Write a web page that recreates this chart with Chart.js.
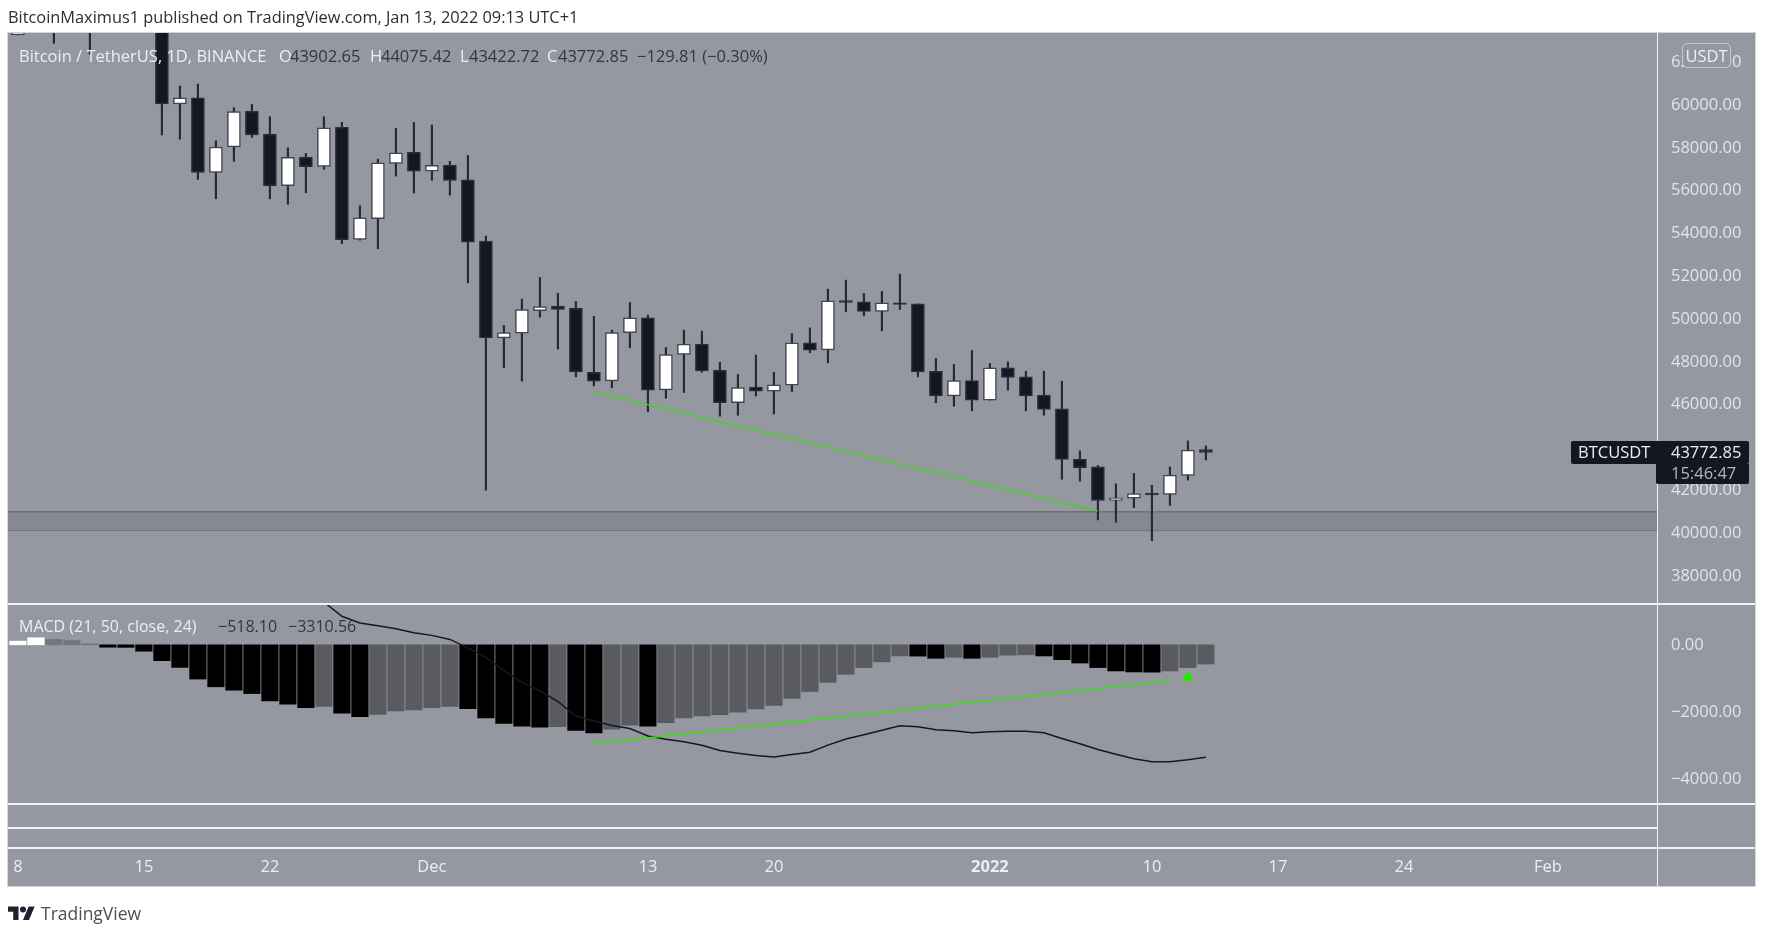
<!DOCTYPE html>
<html>
<head>
<meta charset="utf-8">
<title>BTCUSDT</title>
<script src="https://cdn.jsdelivr.net/npm/chart.js@4/dist/chart.umd.min.js"></script>
<style>
  html, body { margin: 0; padding: 0; background: #fff; width: 1765px; height: 928px; overflow: hidden; }
  body { font-family: "Open Sans", sans-serif; position: relative; }
  #panel { position: absolute; left: 8px; top: 33px; width: 1747px; height: 853px; background: #9598a1; }
  canvas { position: absolute; left: 0; }
  .t { position: absolute; white-space: nowrap; line-height: 20px; font-size: 16.5px; }
  .hl { color: #eceef2; }
  .dk { color: #33363f; }
  .rule { position: absolute; background: #f1f2f4; }
</style>
</head>
<body>
<div id="panel"></div>
<canvas id="mainChart" width="1765" height="603" style="top:0"></canvas>
<canvas id="macdChart" width="1765" height="325" style="top:603px"></canvas>

<div class="rule" style="left:8px;top:603px;width:1747px;height:1.5px"></div>
<div class="rule" style="left:8px;top:803px;width:1747px;height:1.5px"></div>
<div class="rule" style="left:8px;top:826.5px;width:1649px;height:2px"></div>
<div class="rule" style="left:8px;top:847px;width:1747px;height:1.5px"></div>
<div class="rule" style="left:1656.5px;top:33px;width:1.5px;height:853px"></div>
<div class="rule" style="left:8px;top:32px;width:1747px;height:1px;background:#d3d5da"></div>
<div class="rule" style="left:7px;top:32px;width:1px;height:855px;background:#d3d5da"></div>
<div class="rule" style="left:1755px;top:32px;width:1px;height:855px;background:#d3d5da"></div>
<div class="rule" style="left:7px;top:886px;width:1749px;height:1px;background:#d3d5da"></div>

<div class="t" style="left:8px;top:7px;font-size:16.35px;color:#2a2e39">BitcoinMaximus1 published on TradingView.com, Jan 13, 2022 09:13 UTC+1</div>

<div class="t hl" style="left:19px;top:46px">Bitcoin / TetherUS, 1D, BINANCE</div>
<div class="t hl" style="left:279px;top:46px">O</div><div class="t dk" style="left:290px;top:46px">43902.65</div>
<div class="t hl" style="left:370px;top:46px">H</div><div class="t dk" style="left:381px;top:46px">44075.42</div>
<div class="t hl" style="left:460px;top:46px">L</div><div class="t dk" style="left:469px;top:46px">43422.72</div>
<div class="t hl" style="left:547px;top:46px">C</div><div class="t dk" style="left:558px;top:46px">43772.85</div>
<div class="t dk" style="left:637px;top:46px">−129.81 (−0.30%)</div>

<div class="t hl" style="left:19px;top:616px;font-size:16px">MACD (21, 50, close, 24)</div>
<div class="t dk" style="left:218px;top:616px;font-size:16px">−518.10</div>
<div class="t dk" style="left:288px;top:616px;font-size:16px">−3310.56</div>

<div class="t" style="left:1682px;top:43px;width:47px;height:23px;line-height:23px;text-align:center;color:#eef0f3;background:#9598a1;border:1px solid #c5c7ce;border-radius:5px">USDT</div>

<div style="position:absolute;left:1571px;top:441px;width:178px;height:23px;background:#131722;border-radius:2px"></div>
<div style="position:absolute;left:1656px;top:464px;width:93px;height:20px;background:#131722;border-radius:0 0 2px 2px"></div>
<div class="t" style="left:1578px;top:442px;color:#eceef2">BTCUSDT</div>
<div class="t" style="left:1671px;top:442px;color:#eceef2">43772.85</div>
<div class="t" style="left:1671px;top:463px;color:#b4b6bd">15:46:47</div>

<svg style="position:absolute;left:8px;top:905px" width="27" height="15" viewBox="0 0 36 20">
  <path fill="#1e222d" d="M14 20H7V9H0V2h14v18zM28 20h-8l7.5-18h8L28 20z"/>
  <circle fill="#1e222d" cx="20" cy="6" r="4"/>
</svg>
<div class="t" style="left:41px;top:903px;font-size:17.5px;color:#4a4e59">TradingView</div>

<script>
// day 0 is Nov 8 2021, one unit per day
const tickDays = [0, 7, 14, 23, 35, 42, 54, 63, 70, 77, 85];
const tickLabels = ['8', '15', '22', 'Dec', '13', '20', '2022', '10', '17', '24', 'Feb'];
// 44000 sits behind the price label
const priceTicks = [62000, 60000, 58000, 56000, 54000, 52000, 50000, 48000, 46000, 42000, 40000, 38000];
const macdTicks = [0, -2000, -4000];

const opens = [63273, 67525, 66950, 64880, 64800, 64400, 64440, 65500, 63600, 60050, 60340, 56850, 58040, 59700, 58645, 56230, 57570, 57130, 58955, 53720, 54690, 57275, 57790, 56915, 57195, 56510, 53645, 49125, 49345, 50390, 50607, 50500, 47510, 47115, 49360, 50060, 46695, 48345, 48830, 47610, 46100, 46820, 46630, 46910, 48890, 48560, 50870, 50810, 50355, 50760, 50710, 47565, 46410, 47130, 46210, 47720, 47300, 46445, 45805, 43455, 43095, 41525, 41635, 41870, 41805, 42695, 43902.65];
const highs = [67790, 68500, 69000, 65600, 65450, 65000, 65550, 66300, 63620, 60890, 60980, 58330, 59875, 60030, 59455, 58000, 57740, 59455, 59190, 55295, 57475, 58910, 59190, 59065, 57370, 57650, 53878, 49705, 50935, 51945, 51200, 50825, 50125, 49485, 50775, 50185, 48670, 49485, 49440, 47985, 47410, 48320, 47520, 49325, 49590, 51400, 51820, 51200, 51290, 52100, 50710, 48160, 47880, 48535, 47925, 48000, 47565, 47565, 47100, 43845, 43160, 42300, 42790, 42240, 43095, 44310, 44075.42];
const lows = [63273, 66250, 62880, 64100, 62370, 63400, 63550, 63400, 58600, 58400, 56525, 55620, 57370, 58490, 55620, 55360, 55900, 57000, 53530, 53690, 53285, 56680, 55890, 56480, 55790, 51700, 42010, 47725, 47100, 50090, 48600, 47305, 46880, 46790, 48655, 45670, 46300, 46570, 47520, 45465, 45510, 46410, 45570, 46615, 48425, 47955, 50340, 50150, 49450, 50450, 47300, 46090, 45930, 45715, 46210, 46680, 45715, 45510, 42520, 42425, 40620, 40510, 41195, 39650, 41300, 42475, 43422.72];
const closes = [67525, 66950, 64880, 64800, 64400, 64440, 65500, 63600, 60050, 60340, 56850, 58040, 59690, 58600, 56215, 57555, 57120, 58940, 53705, 54735, 57305, 57770, 56915, 57180, 56480, 53595, 49125, 49375, 50450, 50590, 50450, 47535, 47100, 49375, 50060, 46680, 48345, 48830, 47580, 46100, 46800, 46630, 46925, 48890, 48545, 50855, 50775, 50355, 50760, 50680, 47535, 46410, 47130, 46210, 47720, 47270, 46410, 45775, 43440, 43065, 41525, 41650, 41850, 41790, 42710, 43880, 43772.85];

const histogram = [110, 210, 160, 130, 30, -70, -75, -190, -470, -670, -1015, -1245, -1345, -1445, -1660, -1760, -1860, -1830, -2030, -2130, -2060, -1960, -1930, -1860, -1830, -1890, -2170, -2330, -2410, -2440, -2430, -2540, -2610, -2500, -2380, -2410, -2310, -2170, -2110, -2070, -2000, -1900, -1800, -1590, -1385, -1115, -875, -675, -505, -330, -335, -400, -370, -400, -370, -305, -295, -330, -440, -540, -675, -775, -805, -810, -775, -675, -570];
const macdDays = [17, 18, 19, 20, 21, 22, 23, 24, 25, 26, 27, 28, 29, 30, 31, 32, 33, 34, 35, 36, 37, 38, 39, 40, 41, 42, 43, 44, 45, 46, 47, 48, 49, 50, 51, 52, 53, 54, 55, 56, 57, 58, 59, 60, 61, 62, 63, 64, 65, 66];
const macdLine = [1270, 845, 645, 565, 478, 358, 280, 160, -90, -370, -765, -1115, -1365, -1680, -2110, -2260, -2390, -2480, -2705, -2800, -2875, -2975, -3135, -3215, -3285, -3325, -3255, -3185, -2975, -2795, -2665, -2530, -2400, -2430, -2520, -2550, -2605, -2575, -2560, -2565, -2605, -2775, -2935, -3105, -3245, -3375, -3465, -3465, -3405, -3335];

const supportBand = [41000, 40140];
const priceTrendDays = [32, 60];
const priceTrend = [46600, 41030];
const macdTrendDays = [32, 64];
const macdTrend = [-2935, -1065];
const macdArrowDay = [65];
const macdArrow = [-965];

const xMin = -0.55;
const xMax = 91.06;
const tickFont = { family: '"Open Sans", sans-serif', size: 16.5 };

function xScale(visible) {
    return {
        type: 'linear',
        min: xMin,
        max: xMax,
        offset: false,
        display: visible,
        grid: { display: false, drawTicks: false },
        border: { display: false },
        afterBuildTicks: (axis) => { axis.ticks = tickDays.map(value => ({ value })); },
        afterFit: (axis) => {
            axis.height = visible ? 83 : 0;
            // the big tick padding should not shrink the plot sideways
            axis.paddingLeft = 0;
            axis.paddingRight = 0;
        },
        ticks: {
            autoSkip: false,
            maxRotation: 0,
            padding: 54,
            color: '#eceef2',
            font: (ctx) => ctx.tick && ctx.tick.value === 54 ? { ...tickFont, weight: 'bold' } : tickFont,
            callback: (value) => tickLabels[tickDays.indexOf(value)]
        }
    };
}

function yScale(min, max, tickValues) {
    return {
        position: 'right',
        min,
        max,
        grid: { display: false, drawTicks: false },
        border: { display: false },
        afterBuildTicks: (axis) => { axis.ticks = tickValues.map(value => ({ value })); },
        afterFit: (axis) => {
            axis.width = 98;
            axis.paddingTop = 0;
            axis.paddingBottom = 0;
        },
        ticks: {
            padding: 14,
            color: '#e3e4e8',
            font: tickFont,
            callback: (value) => value.toFixed(2).replace('-', '−')
        }
    };
}

function points(xs, ys) {
    return xs.map((x, i) => ({ x, y: ys[i] }));
}

function buildMainChart() {
    const wicks = highs.map((high, i) => ({ x: i, y: [lows[i], high] }));
    const bodies = opens.map((open, i) => ({ x: i, y: [open, closes[i]] }));
    const isUp = (ctx) => closes[ctx.dataIndex] >= opens[ctx.dataIndex];

    new Chart(document.getElementById('mainChart'), {
        type: 'bar',
        data: {
            datasets: [
                { type: 'line', data: points([xMin, xMax], [supportBand[0], supportBand[0]]), borderColor: '#6f7179', borderWidth: 1.5, pointRadius: 0, fill: '+1', backgroundColor: '#878991', order: 5 },
                { type: 'line', data: points([xMin, xMax], [supportBand[1], supportBand[1]]), borderColor: '#6f7179', borderWidth: 1.5, pointRadius: 0, order: 5 },
                { data: wicks, backgroundColor: '#262a35', barThickness: 1.5, grouped: false, order: 4 },
                {
                    data: bodies,
                    backgroundColor: (ctx) => isUp(ctx) ? '#ffffff' : '#131722',
                    borderColor: (ctx) => isUp(ctx) ? '#434651' : '#2a2e39',
                    borderWidth: 1.5,
                    borderSkipped: false,
                    barThickness: 13,
                    grouped: false,
                    order: 3
                },
                { type: 'line', data: points(priceTrendDays, priceTrend), borderColor: '#3ed916', borderWidth: 1.5, pointRadius: 0, order: 1 }
            ]
        },
        options: {
            responsive: false,
            animation: false,
            devicePixelRatio: 1,
            layout: { autoPadding: false, padding: { left: 8, top: 33, right: 10, bottom: 0 } },
            plugins: { legend: { display: false }, tooltip: { enabled: false } },
            scales: { x: xScale(false), y: yScale(36738, 63364, priceTicks) }
        }
    });
}

function histogramColor(ctx) {
    const i = ctx.dataIndex;
    const value = histogram[i];
    const rising = i === 0 || value > histogram[i - 1];
    if (value >= 0) return rising ? '#ffffff' : '#74767e';
    return rising ? '#5a5b61' : '#000000';
}

function buildMacdChart() {
    new Chart(document.getElementById('macdChart'), {
        type: 'bar',
        data: {
            datasets: [
                { data: histogram.map((y, x) => ({ x, y })), backgroundColor: histogramColor, barThickness: 16.5, grouped: false, order: 3 },
                { type: 'line', data: points(macdDays, macdLine), borderColor: '#16181f', borderWidth: 1.5, pointRadius: 0, order: 2 },
                { type: 'line', data: points(macdTrendDays, macdTrend), borderColor: '#35e30c', borderWidth: 1.5, pointRadius: 0, order: 1 },
                { type: 'line', data: points(macdArrowDay, macdArrow), showLine: false, pointStyle: 'triangle', pointRadius: 6, backgroundColor: '#22e800', borderColor: '#22e800', order: 1 }
            ]
        },
        options: {
            responsive: false,
            animation: false,
            devicePixelRatio: 1,
            layout: { autoPadding: false, padding: { left: 8, top: 0, right: 10, bottom: 42 } },
            plugins: { legend: { display: false }, tooltip: { enabled: false } },
            scales: { x: xScale(true), y: yScale(-4690, 1240, macdTicks) }
        }
    });
}

buildMainChart();
buildMacdChart();
</script>
</body>
</html>
